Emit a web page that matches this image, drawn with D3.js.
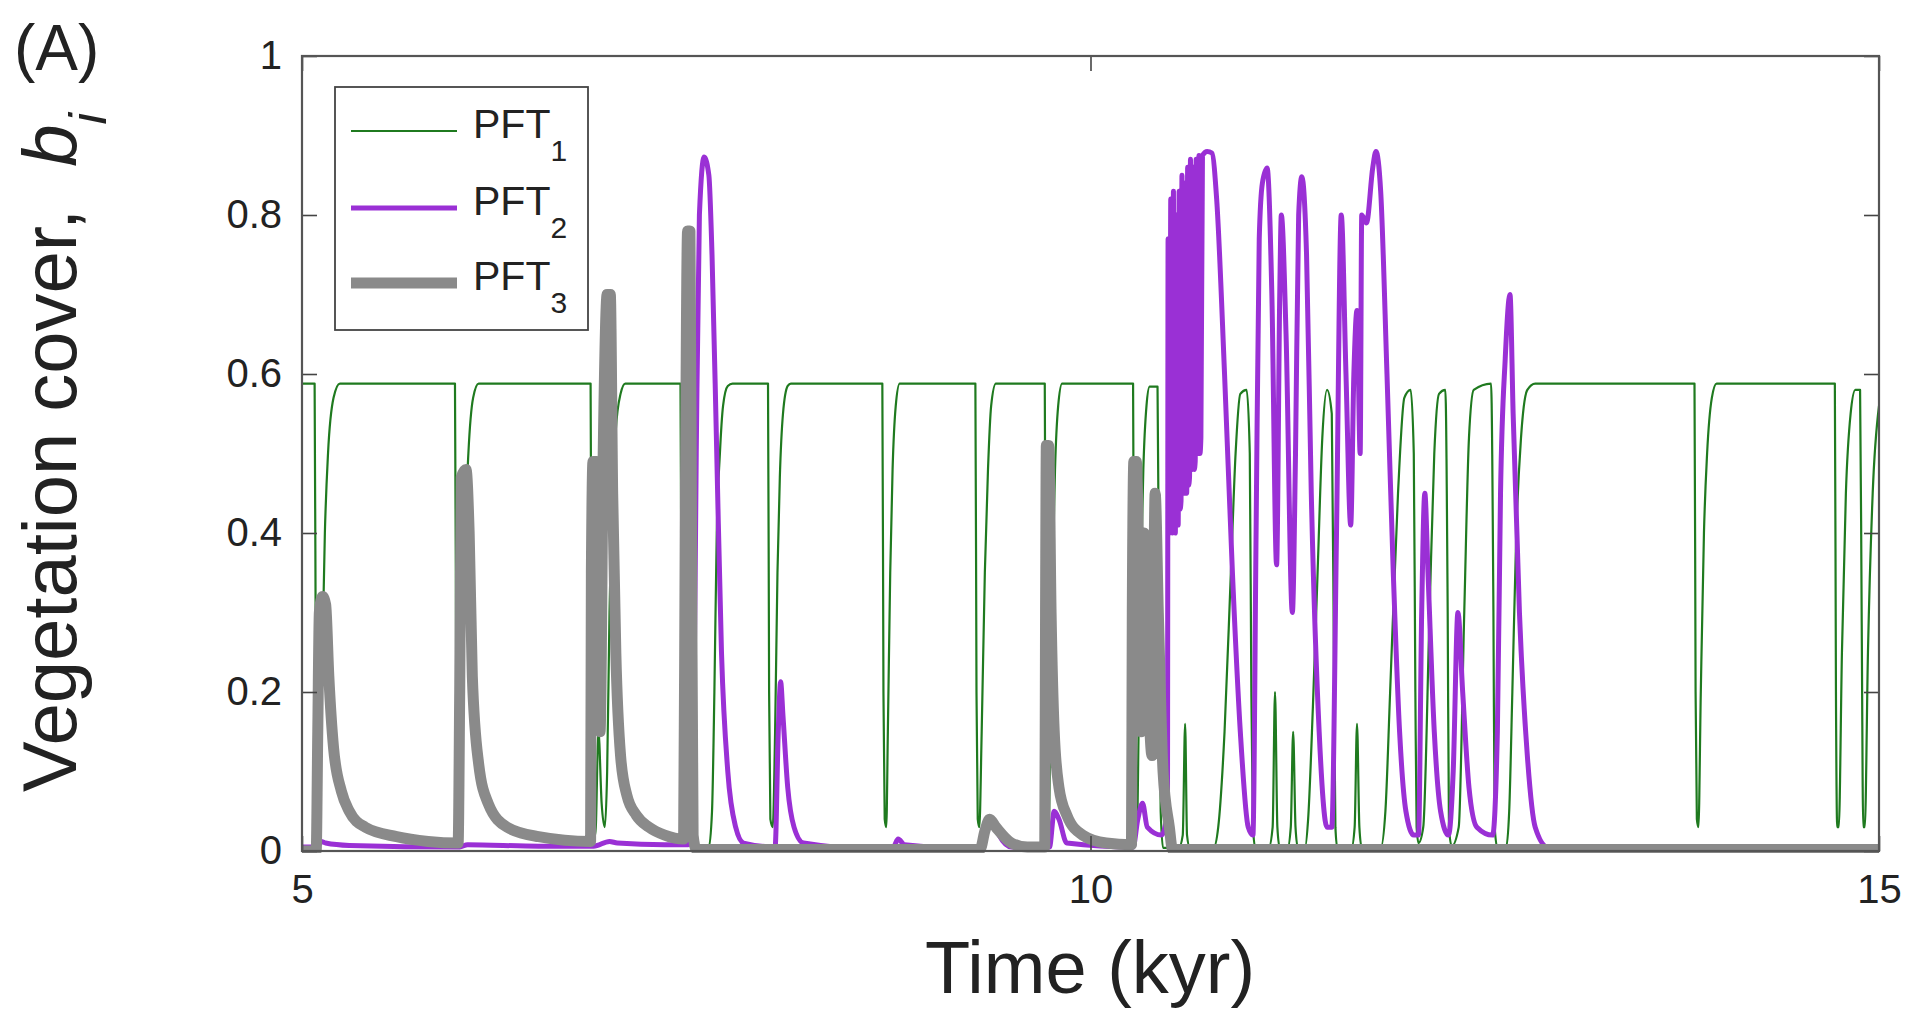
<!DOCTYPE html>
<html><head><meta charset="utf-8">
<script src="https://cdn.jsdelivr.net/npm/d3@7"></script>
<style>
html,body{margin:0;padding:0;background:#fff;}
svg{display:block;}
text{font-family:"Liberation Sans",Arial,Helvetica,sans-serif;fill:#222;}
</style></head><body>
<svg id="chart" width="1913" height="1011"></svg>
<script>
// ---- data (time in kyr, vegetation cover) ----
const xTicks = [5, 10, 15];
const yTicks = [0, 0.2, 0.4, 0.6, 0.8, 1];
const yTickLabels = ["0", "0.2", "0.4", "0.6", "0.8", "1"];
const seriesNames = ["PFT", "PFT", "PFT"];
const seriesSubs = ["1", "2", "3"];

const pft1 = [
 [5.0,0.588],[5.08,0.588],[5.088,0.2],[5.094,0.03],[5.105,0.025],[5.125,0.2],[5.145,0.4],[5.165,0.5],[5.2,0.57],[5.24,0.588],
 [5.97,0.588],[5.978,0.2],[5.984,0.03],[5.995,0.025],[6.015,0.2],[6.035,0.4],[6.055,0.5],[6.085,0.57],[6.12,0.588],
 [6.83,0.588],[6.837,0.2],[6.845,0.02],[6.86,0.02],[6.88,0.15],[6.9,0.06],[6.92,0.03],[6.935,0.1],[6.95,0.3],[6.97,0.45],[6.99,0.53],[7.02,0.575],[7.05,0.588],
 [7.40,0.588],[7.408,0.2],[7.415,0.01],[7.58,0.005],[7.6,0.05],[7.615,0.2],[7.63,0.4],[7.65,0.5],[7.67,0.56],[7.7,0.585],[7.73,0.588],
 [7.955,0.588],[7.962,0.2],[7.97,0.04],[7.985,0.03],[8.0,0.15],[8.015,0.35],[8.03,0.47],[8.05,0.55],[8.08,0.585],[8.1,0.588],
 [8.68,0.588],[8.687,0.2],[8.695,0.04],[8.705,0.03],[8.715,0.15],[8.73,0.35],[8.745,0.48],[8.765,0.56],[8.79,0.588],
 [9.27,0.588],[9.277,0.2],[9.285,0.04],[9.295,0.03],[9.31,0.15],[9.33,0.35],[9.35,0.48],[9.37,0.56],[9.40,0.588],
 [9.71,0.588],[9.717,0.2],[9.725,0.04],[9.735,0.03],[9.745,0.15],[9.76,0.35],[9.775,0.48],[9.795,0.56],[9.82,0.588],
 [10.27,0.588],[10.277,0.2],[10.285,0.04],[10.295,0.03],[10.305,0.15],[10.32,0.35],[10.335,0.48],[10.355,0.56],[10.375,0.584],[10.425,0.584],
 [10.435,0.3],[10.445,0.05],[10.46,0.004],[10.56,0.004],[10.585,0.02],[10.6,0.16],[10.612,0.02],[10.63,0.004],[10.78,0.004],[10.81,0.03],[10.85,0.15],[10.89,0.35],[10.92,0.5],[10.95,0.575],[10.99,0.58],
 [11.01,0.5],[11.02,0.2],[11.03,0.03],[11.045,0.004],[11.13,0.004],[11.155,0.03],[11.17,0.2],[11.185,0.03],[11.2,0.004],[11.25,0.004],[11.27,0.03],[11.285,0.15],[11.3,0.03],[11.315,0.004],[11.36,0.004],[11.38,0.04],[11.41,0.18],[11.44,0.35],[11.47,0.52],[11.5,0.58],
 [11.53,0.55],[11.545,0.2],[11.553,0.03],[11.565,0.004],[11.655,0.004],[11.675,0.03],[11.69,0.16],[11.705,0.03],[11.72,0.004],[11.84,0.004],[11.87,0.05],[11.9,0.2],[11.95,0.45],[11.99,0.57],[12.03,0.58],
 [12.05,0.5],[12.06,0.2],[12.068,0.03],[12.08,0.01],[12.11,0.03],[12.15,0.3],[12.18,0.5],[12.21,0.575],[12.25,0.58],[12.265,0.3],[12.273,0.03],[12.29,0.006],[12.335,0.03],[12.37,0.3],[12.4,0.52],[12.43,0.58],[12.54,0.588],
 [12.555,0.3],[12.563,0.03],[12.58,0.004],[12.635,0.004],[12.655,0.05],[12.675,0.2],[12.7,0.4],[12.73,0.52],[12.77,0.58],[12.82,0.588],
 [13.83,0.588],[13.837,0.2],[13.845,0.04],[13.855,0.03],[13.87,0.2],[13.89,0.4],[13.91,0.5],[13.94,0.57],[13.97,0.588],
 [14.72,0.588],[14.727,0.2],[14.735,0.03],[14.745,0.03],[14.765,0.25],[14.79,0.45],[14.82,0.55],[14.85,0.58],[14.88,0.58],
 [14.89,0.3],[14.9,0.03],[14.91,0.03],[14.93,0.25],[14.96,0.45],[15.0,0.56]
];

const pft2 = [
 [5.0,0.005],[5.1,0.005],[5.12,0.012],[5.15,0.01],[5.3,0.007],[6.0,0.005],[6.05,0.008],[6.5,0.006],[6.85,0.006],[6.95,0.012],[7.0,0.01],[7.3,0.008],[7.45,0.008],
 [7.48,0.1],[7.5,0.5],[7.52,0.8],[7.55,0.873],[7.58,0.85],[7.6,0.75],[7.63,0.5],[7.66,0.25],[7.7,0.1],[7.75,0.03],[7.8,0.01],
 [8.0,0.005],[8.02,0.15],[8.035,0.213],[8.05,0.17],[8.08,0.08],[8.12,0.03],[8.18,0.01],[8.6,0.003],[8.75,0.005],[8.78,0.015],[8.82,0.008],
 [9.3,0.003],[9.35,0.03],[9.38,0.04],[9.42,0.02],[9.5,0.005],[9.74,0.005],[9.77,0.05],[9.8,0.04],[9.85,0.01],[10.27,0.005],[10.3,0.04],[10.33,0.06],[10.36,0.03],[10.45,0.02],
 [10.488,0.05],[10.492,0.77],[10.498,0.42],[10.503,0.40],[10.509,0.82],[10.515,0.41],[10.52,0.40],[10.526,0.83],[10.532,0.41],[10.538,0.40],[10.544,0.80],[10.55,0.42],[10.556,0.41],[10.562,0.83],[10.568,0.43],[10.574,0.44],
 [10.58,0.85],[10.586,0.45],[10.592,0.45],[10.598,0.84],[10.604,0.45],[10.61,0.45],[10.616,0.86],[10.622,0.46],[10.628,0.47],[10.634,0.87],[10.64,0.48],[10.646,0.48],[10.652,0.86],[10.658,0.48],[10.664,0.49],
 [10.67,0.87],[10.676,0.5],[10.682,0.5],[10.688,0.875],[10.694,0.5],[10.70,0.52],[10.71,0.875],[10.74,0.88],[10.77,0.878],[10.8,0.82],[10.85,0.6],[10.9,0.35],[10.95,0.15],[11.0,0.03],[11.03,0.02],
 [11.05,0.4],[11.07,0.77],[11.09,0.84],[11.12,0.859],[11.15,0.7],[11.18,0.36],[11.2,0.7],[11.21,0.80],[11.24,0.65],[11.28,0.3],[11.3,0.5],[11.32,0.8],[11.34,0.848],[11.37,0.75],[11.4,0.45],[11.45,0.15],[11.5,0.03],[11.53,0.03],
 [11.56,0.4],[11.59,0.80],[11.62,0.6],[11.65,0.41],[11.67,0.6],[11.69,0.68],[11.71,0.5],[11.72,0.8],[11.75,0.79],[11.79,0.86],[11.81,0.88],[11.84,0.83],[11.88,0.6],[11.92,0.35],[11.96,0.15],[12.0,0.05],[12.05,0.02],
 [12.08,0.02],[12.1,0.3],[12.12,0.45],[12.14,0.35],[12.18,0.15],[12.22,0.05],[12.27,0.02],[12.3,0.1],[12.33,0.3],[12.36,0.2],[12.4,0.08],[12.45,0.03],[12.55,0.02],
 [12.58,0.15],[12.6,0.45],[12.63,0.62],[12.66,0.70],[12.68,0.55],[12.72,0.3],[12.77,0.12],[12.82,0.03],[12.9,0.005],[15.0,0.003]
];

const pft3 = [
 [5.0,0.0],[5.09,0.0],[5.1,0.15],[5.11,0.30],[5.13,0.32],[5.15,0.31],[5.17,0.22],[5.2,0.13],[5.25,0.075],[5.3,0.05],[5.4,0.03],[5.6,0.018],[5.8,0.012],[5.99,0.01],
 [6.0,0.2],[6.01,0.47],[6.04,0.48],[6.06,0.4],[6.08,0.22],[6.12,0.11],[6.18,0.06],[6.3,0.03],[6.5,0.018],[6.83,0.012],
 [6.835,0.35],[6.845,0.49],[6.87,0.49],[6.88,0.2],[6.89,0.15],[6.91,0.5],[6.935,0.70],[6.955,0.70],[6.97,0.45],[6.99,0.25],[7.02,0.12],[7.06,0.07],[7.12,0.045],[7.2,0.03],[7.3,0.02],[7.42,0.015],
 [7.43,0.4],[7.445,0.78],[7.46,0.78],[7.47,0.4],[7.48,0.02],[7.5,0.002],[9.3,0.002],[9.33,0.025],[9.36,0.04],[9.4,0.03],[9.5,0.01],[9.6,0.005],[9.71,0.005],
 [9.715,0.3],[9.72,0.51],[9.735,0.51],[9.75,0.3],[9.77,0.15],[9.8,0.08],[9.85,0.045],[9.95,0.02],[10.1,0.01],[10.26,0.008],
 [10.265,0.3],[10.275,0.49],[10.29,0.49],[10.31,0.3],[10.32,0.15],[10.34,0.4],[10.36,0.25],[10.39,0.12],[10.41,0.45],[10.43,0.3],[10.46,0.1],[10.5,0.03],[10.52,0.002],[15.0,0.002]
];

const seriesData = [pft1, pft2, pft3];
const seriesColors = ["#1f7a1f", "#9a30d5", "#8a8a8a"];
const seriesWidths = [2.2, 5, 11];

// ---- layout ----
const svg = d3.select("#chart");
svg.append("rect").attr("width",1913).attr("height",1011).attr("fill","#fff");
const L = 302, R = 1879, T = 56, B = 851;
const x = d3.scaleLinear().domain([5,15]).range([L,R]);
const y = d3.scaleLinear().domain([0,1]).range([B,T]);

svg.append("defs").append("clipPath").attr("id","clip")
  .append("rect").attr("x",L).attr("y",T-2).attr("width",R-L).attr("height",B-T+4);

const line = d3.line().x(d=>x(d[0])).y(d=>y(d[1])).curve(d3.curveMonotoneX);
const g = svg.append("g").attr("clip-path","url(#clip)");
seriesData.forEach((s,i)=>{
  g.append("path").datum(s).attr("d",line).attr("fill","none")
   .attr("stroke",seriesColors[i]).attr("stroke-width",seriesWidths[i])
   .attr("stroke-linejoin","round").attr("stroke-linecap","round");
});

// axes
function styleAxis(sel){
  sel.select(".domain").remove();
  sel.selectAll(".tick line").attr("stroke","#444").attr("stroke-width",1.6);
  sel.selectAll(".tick text").attr("font-size",40).attr("fill","#222")
     .attr("font-family","'Liberation Sans',Arial,sans-serif");
}
svg.append("g").attr("transform",`translate(${L},0)`)
  .call(d3.axisLeft(y).tickValues(yTicks).tickFormat((d,i)=>yTickLabels[i]).tickSize(-15).tickPadding(20)).call(styleAxis);
svg.append("g").attr("transform",`translate(${R},0)`)
  .call(d3.axisRight(y).tickValues(yTicks).tickFormat("").tickSize(-15)).call(styleAxis);
svg.append("g").attr("transform",`translate(0,${B})`)
  .call(d3.axisBottom(x).tickValues(xTicks).tickFormat(d3.format("d")).tickSize(-15).tickPadding(24)).call(styleAxis);
svg.append("g").attr("transform",`translate(0,${T})`)
  .call(d3.axisTop(x).tickValues(xTicks).tickFormat("").tickSize(-15)).call(styleAxis);

svg.append("rect").attr("x",L).attr("y",T).attr("width",R-L).attr("height",B-T)
  .attr("fill","none").attr("stroke","#555").attr("stroke-width",2.2);

// titles
svg.append("text").attr("x",1090).attr("y",993).attr("text-anchor","middle")
  .attr("font-size",74).text("Time (kyr)");
const yl = svg.append("text").attr("transform","translate(76,792) rotate(-90)").attr("font-size",76);
yl.append("tspan").text("Vegetation cover,\u00a0\u00a0");
yl.append("tspan").attr("font-style","italic").text("b");
yl.append("tspan").attr("font-style","italic").attr("font-size",52).attr("dy",30).text("i");

svg.append("text").attr("x",14).attr("y",70).attr("font-size",64).text("(A)");

// legend
const lg = svg.append("g");
lg.append("rect").attr("x",335).attr("y",87).attr("width",253).attr("height",243)
  .attr("fill","#fff").attr("stroke","#444").attr("stroke-width",1.8);
const legY = [131, 208, 283];
seriesData.forEach((s,i)=>{
  lg.append("line").attr("x1",351).attr("x2",457).attr("y1",legY[i]).attr("y2",legY[i])
    .attr("stroke",seriesColors[i]).attr("stroke-width",seriesWidths[i]);
  const t = lg.append("text").attr("x",473).attr("y",legY[i]+7).attr("font-size",41);
  t.append("tspan").text(seriesNames[i]);
  t.append("tspan").attr("font-size",30).attr("dy",23).text(seriesSubs[i]);
});
</script></body></html>
